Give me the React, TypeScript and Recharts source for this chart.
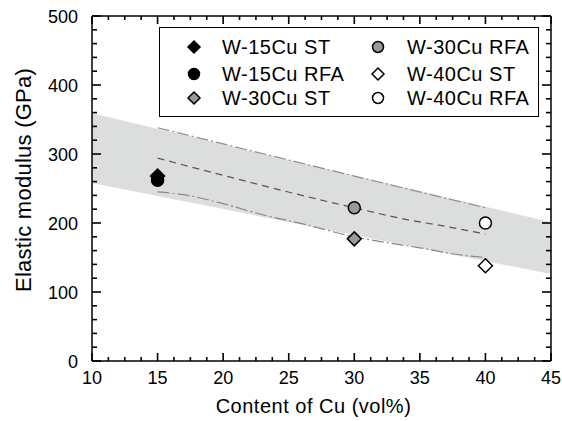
import { Area, ComposedChart, Legend, Line, Scatter, XAxis, YAxis } from "recharts";

// gray band (bounds), read at the plot edges
const bandCu = [10, 45];
const bandLower = [258, 126];
const bandUpper = [359, 201];

// upper dash-dot line
const upperCu = [15, 30, 40];
const upperModulus = [338, 268, 222];

// middle dashed line
const meanCu = [15, 30, 34, 37, 40];
const meanModulus = [294, 222, 205, 195, 184];

// lower dash-dot line
const lowerCu = [15, 17, 20, 23, 26, 30, 32, 35, 38, 40];
const lowerModulus = [245, 241, 228, 212, 199, 180, 173, 164, 154, 150];

// measured samples
const sampleNames = ["W-15Cu ST", "W-15Cu RFA", "W-30Cu ST", "W-30Cu RFA", "W-40Cu ST", "W-40Cu RFA"];
const sampleCu = [15, 15, 30, 30, 40, 40];
const sampleModulus = [268, 262, 177, 222, 138, 200];
const sampleShapes = ["diamond", "circle", "diamond", "circle", "diamond", "circle"];
const sampleFills = ["#000000", "#000000", "#999999", "#999999", "#ffffff", "#ffffff"];

const xMajorTicks = [10, 15, 20, 25, 30, 35, 40, 45];
const yMajorTicks = [0, 100, 200, 300, 400, 500];

const xTicks: number[] = [];
for (let v = 10; v <= 45; v += 1.25) xTicks.push(v);
const yTicks: number[] = [];
for (let v = 0; v <= 500; v += 20) yTicks.push(v);

const FONT = "'Liberation Sans', Arial, Helvetica, sans-serif";
const AXIS = { stroke: "#000", strokeWidth: 1.5 };

const bandData = bandCu.map((x, i) => ({ x, range: [bandLower[i], bandUpper[i]] }));
const upperData = upperCu.map((x, i) => ({ x, y: upperModulus[i] }));
const meanData = meanCu.map((x, i) => ({ x, y: meanModulus[i] }));
const lowerData = lowerCu.map((x, i) => ({ x, y: lowerModulus[i] }));

// tick mark anchors on the frame, placed through the chart scales
const bottomMarks = xTicks.map((x) => ({ x, y: 0, major: xMajorTicks.includes(x) }));
const topMarks = xTicks.map((x) => ({ x, y: 500, major: xMajorTicks.includes(x) }));
const leftMarks = yTicks.map((y) => ({ x: 10, y, major: yMajorTicks.includes(y) }));
const rightMarks = yTicks.map((y) => ({ x: 45, y, major: yMajorTicks.includes(y) }));

function Marker({ cx, cy, shape, fill, size }: { cx: number; cy: number; shape: string; fill: string; size: number }) {
  if (shape === "diamond") {
    return (
      <polygon
        points={`${cx},${cy - size} ${cx + size},${cy} ${cx},${cy + size} ${cx - size},${cy}`}
        fill={fill}
        stroke="#000"
        strokeWidth={1.5}
      />
    );
  }
  return <circle cx={cx} cy={cy} r={size - 1} fill={fill} stroke="#000" strokeWidth={1.5} />;
}

// inward tick mark; dx/dy is the direction into the plot
const tickShape = (dx: number, dy: number, majorLen: number, minorLen: number) => (p: any) => {
  const len = p.payload && p.payload.major ? majorLen : minorLen;
  return (
    <path
      d={`M${p.cx},${p.cy}L${p.cx + dx * len},${p.cy + dy * len}`}
      stroke="#000"
      strokeWidth={1.6}
      fill="none"
    />
  );
};

function XLabel(p: any) {
  const v = p.payload.value;
  if (!xMajorTicks.includes(v)) return <g />;
  return (
    <text x={Number(p.x)} y={Number(p.y) + 23} textAnchor="middle" fontSize={18} fill="#000" fontFamily={FONT}>
      {v}
    </text>
  );
}

function YLabel(p: any) {
  const v = p.payload.value;
  if (!yMajorTicks.includes(v)) return <g />;
  return (
    <text x={Number(p.x) - 14} y={Number(p.y) + 6.5} textAnchor="end" fontSize={18} fill="#000" fontFamily={FONT}>
      {v}
    </text>
  );
}

const legendRows = [19, 46, 70];
const legendCols = [
  { marker: 34, text: 62 },
  { marker: 218, text: 247 },
];

function LegendBox() {
  return (
    <div
      style={{
        position: "relative",
        width: 380,
        height: 90,
        boxSizing: "border-box",
        border: "1.5px solid #000",
        background: "#fff",
        fontFamily: FONT,
      }}
    >
      {sampleNames.map((name, i) => {
        const col = legendCols[Math.floor(i / 3)];
        const row = legendRows[i % 3];
        return (
          <div key={name}>
            <svg width={16} height={16} style={{ position: "absolute", left: col.marker - 8, top: row - 8 }}>
              <Marker cx={8} cy={8} shape={sampleShapes[i]} fill={sampleFills[i]} size={sampleShapes[i] === "diamond" ? 6 : 6.5} />
            </svg>
            <div
              style={{
                position: "absolute",
                left: col.text,
                top: row - 12,
                height: 24,
                lineHeight: "24px",
                fontSize: 20,
                letterSpacing: 0.5,
                whiteSpace: "nowrap",
                color: "#000",
              }}
            >
              {name}
            </div>
          </div>
        );
      })}
    </div>
  );
}

export default function App() {
  return (
    <div style={{ position: "absolute", left: 0, top: 0, background: "#fff" }}>
      <ComposedChart width={562} height={421} margin={{ top: 15, right: 10, bottom: 0, left: 0 }} style={{ fontFamily: FONT }}>
        <Area data={bandData} dataKey="range" type="linear" stroke="none" fill="#dcdddd" fillOpacity={1} isAnimationActive={false} />
        <Line data={upperData} dataKey="y" type="linear" stroke="#909090" strokeWidth={1.2} strokeDasharray="12 3 2 3" dot={false} activeDot={false} isAnimationActive={false} />
        <Line data={meanData} dataKey="y" type="monotone" stroke="#555555" strokeWidth={1.2} strokeDasharray="7 5" dot={false} activeDot={false} isAnimationActive={false} />
        <Line data={lowerData} dataKey="y" type="monotone" stroke="#888888" strokeWidth={1.2} strokeDasharray="12 3 2 3" dot={false} activeDot={false} isAnimationActive={false} />

        <Scatter data={bottomMarks} dataKey="y" isAnimationActive={false} shape={tickShape(0, -1, 8, 4)} />
        <Scatter data={topMarks} dataKey="y" isAnimationActive={false} shape={tickShape(0, 1, 8, 4)} />
        <Scatter data={leftMarks} dataKey="y" isAnimationActive={false} shape={tickShape(1, 0, 9, 5)} />
        <Scatter data={rightMarks} dataKey="y" isAnimationActive={false} shape={tickShape(-1, 0, 9, 5)} />

        {sampleNames.map((name, i) => (
          <Scatter
            key={name}
            name={name}
            data={[{ x: sampleCu[i], y: sampleModulus[i] }]}
            dataKey="y"
            isAnimationActive={false}
            shape={(p: any) => <Marker cx={p.cx} cy={p.cy} shape={sampleShapes[i]} fill={sampleFills[i]} size={7} />}
          />
        ))}
        <XAxis
          type="number"
          dataKey="x"
          domain={[10, 45]}
          ticks={xTicks}
          interval={0}
          height={60}
          tickSize={0}
          tickMargin={0}
          tickLine={false}
          axisLine={AXIS}
          tick={(p: any) => <XLabel {...p} />}
          label={(p: any) => {
            const vb = p.viewBox;
            return (
              <text x={vb.x + vb.width / 2 - 8} y={413} textAnchor="middle" fontSize={20} letterSpacing={0.5} fill="#000" fontFamily={FONT}>
                Content of Cu (vol%)
              </text>
            );
          }}
        />
        <XAxis xAxisId="top" orientation="top" type="number" domain={[10, 45]} height={1} tick={false} tickLine={false} axisLine={AXIS} />
        <YAxis
          type="number"
          domain={[0, 500]}
          ticks={yTicks}
          interval={0}
          width={92}
          tickSize={0}
          tickMargin={0}
          tickLine={false}
          axisLine={AXIS}
          tick={(p: any) => <YLabel {...p} />}
          label={() => (
            <text x={31} y={180} transform="rotate(-90, 31, 180)" textAnchor="middle" fontSize={22} letterSpacing={0.25} fill="#000" fontFamily={FONT}>
              Elastic modulus (GPa)
            </text>
          )}
        />
        <YAxis yAxisId="right" orientation="right" type="number" domain={[0, 500]} width={1} tick={false} tickLine={false} axisLine={AXIS} />
        <Legend
          layout="horizontal"
          verticalAlign="middle"
          align="center"
          content={() => <LegendBox />}
          wrapperStyle={{ position: "absolute", left: 159, top: 27, width: 380, height: 90 }}
        />
      </ComposedChart>
    </div>
  );
}
